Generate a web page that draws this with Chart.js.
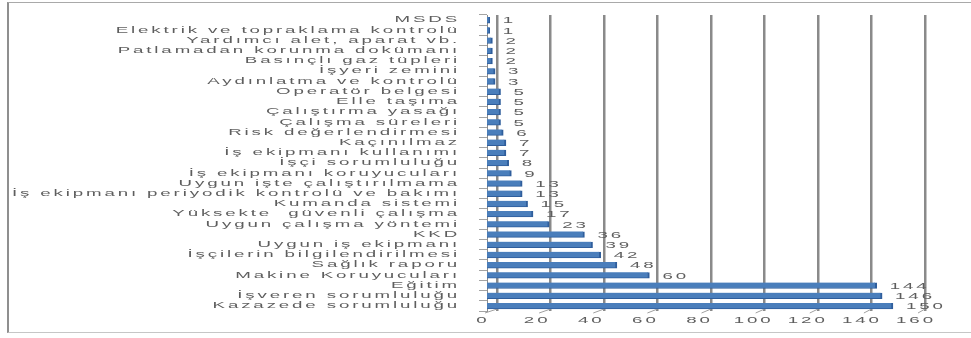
<!DOCTYPE html>
<html>
<head>
<meta charset="utf-8">
<script src="https://cdn.jsdelivr.net/npm/chart.js@4.4.1/dist/chart.umd.min.js"></script>
<style>
  html, body { margin: 0; padding: 0; background: #ffffff; }
  #wrap { position: relative; width: 971px; height: 338px; overflow: hidden; }
  #c { position: absolute; left: 0; top: 0; }
  #frame {
    position: absolute; left: 7px; top: 2px; width: 970px; height: 331px;
    box-sizing: border-box; pointer-events: none;
    border-left: 2px solid #8f8f8f; border-top: 1px solid #a9a9a9; border-bottom: 1px solid #c6c6c6;
  }
</style>
</head>
<body>
<div id="wrap">
  <canvas id="c" width="971" height="338"></canvas>
  <div id="frame"></div>
</div>
<script>
// Kaza nedenleri: kategori adları ve sayıları (yukarıdan aşağıya)
const categories = [
  'MSDS',
  'Elektrik ve topraklama kontrolü',
  'Yardımcı alet, aparat vb.',
  'Patlamadan korunma dokümanı',
  'Basınçlı gaz tüpleri',
  'İşyeri zemini',
  'Aydınlatma ve kontrolü',
  'Operatör belgesi',
  'Elle taşıma',
  'Çalıştırma yasağı',
  'Çalışma süreleri',
  'Risk değerlendirmesi',
  'Kaçınılmaz',
  'İş ekipmanı kullanımı',
  'İşçi sorumluluğu',
  'İş ekipmanı koruyucuları',
  'Uygun işte çalıştırılmama',
  'İş ekipmanı periyodik kontrolü ve bakımı',
  'Kumanda sistemi',
  'Yüksekte  güvenli çalışma',
  'Uygun çalışma yöntemi',
  'KKD',
  'Uygun iş ekipmanı',
  'İşçilerin bilgilendirilmesi',
  'Sağlık raporu',
  'Makine Koruyucuları',
  'Eğitim',
  'İşveren sorumluluğu',
  'Kazazede sorumluluğu'
];
const values = [1, 1, 2, 2, 2, 3, 3, 5, 5, 5, 5, 6, 7, 7, 8, 9, 13, 13, 15, 17, 23, 36, 39, 42, 48, 60, 144, 146, 150];
const tickValues = [0, 20, 40, 60, 80, 100, 120, 140, 160];

const FONT = 'Liberation Sans';
const TEXT = '#5e5e5e';
const TEXT_STRETCH = 2.2;
const TEXT_SPACING = '1.3px';

const canvas = document.getElementById('c');
const ctx = canvas.getContext('2d');

// every label on this chart is set in a widened, loosely spaced face:
// draw text scaled along x around its anchor point
(function widenText(context, sx) {
  const plainFill = context.fillText;
  context.fillText = function (text, x, y, maxWidth) {
    this.save();
    this.letterSpacing = TEXT_SPACING;
    this.translate(x, y);
    this.scale(sx, 1);
    plainFill.call(this, text, 0, 0);
    this.restore();
  };
})(ctx, TEXT_STRETCH);

// value written just past the end of each bar
const valueLabels = {
  id: 'valueLabels',
  afterDatasetsDraw(chart) {
    const c = chart.ctx;
    const meta = chart.getDatasetMeta(0);
    c.save();
    c.font = '8.5px "' + FONT + '"';
    c.fillStyle = TEXT;
    c.textAlign = 'left';
    c.textBaseline = 'middle';
    meta.data.forEach((bar, i) => {
      c.fillText(String(values[i]), bar.x + 13, bar.y + 1);
    });
    c.restore();
  }
};

// slanted floor edges joining each back-wall grid line to its front tick
const floorEdges = {
  id: 'floorEdges',
  beforeDatasetsDraw(chart) {
    const c = chart.ctx;
    const front = chart.scales.x;
    const back = chart.scales.xg;
    const bottom = chart.chartArea.bottom;
    c.save();
    c.strokeStyle = '#a0a0a0';
    c.lineWidth = 1;
    c.beginPath();
    tickValues.forEach(v => {
      c.moveTo(back.getPixelForValue(v), bottom - 2);
      c.lineTo(front.getPixelForValue(v) - 2, bottom + 2);
    });
    c.stroke();
    c.restore();
  }
};

new Chart(ctx, {
  type: 'bar',
  data: {
    labels: categories,
    datasets: [{
      data: values,
      xAxisID: 'x',
      yAxisID: 'y',
      backgroundColor: '#4a7ebb',
      borderColor: '#2f5e9c',
      borderWidth: { top: 0, left: 0, bottom: 1, right: 2 },
      borderSkipped: false,
      barThickness: 6
    }]
  },
  options: {
    indexAxis: 'y',
    responsive: false,
    devicePixelRatio: 1,
    animation: false,
    layout: { padding: { top: 15, right: 51, bottom: 0, left: 0 } },
    plugins: { legend: { display: false }, tooltip: { enabled: false } },
    scales: {
      y: {
        type: 'category',
        afterFit(s) { s.width = 487; s.paddingTop = 0; s.paddingBottom = 0; },
        grid: { display: true, drawOnChartArea: false, drawTicks: true, tickLength: 8, color: '#a4a4a4', offset: true },
        border: { display: true, color: '#8c8c8c', width: 1 },
        ticks: { autoSkip: false, padding: 19, color: TEXT, font: { family: FONT, size: 8.5 } }
      },
      x: {
        type: 'linear',
        position: 'bottom',
        min: 0,
        max: 160,
        afterFit(s) { s.height = 27; s.paddingLeft = 0; s.paddingRight = 0; },
        afterBuildTicks(s) { s.ticks = tickValues.map(v => ({ value: v })); },
        grid: { display: false, drawTicks: false },
        border: { display: false },
        ticks: { autoSkip: false, padding: 5, labelOffset: -4, color: TEXT, font: { family: FONT, size: 8.5 } }
      },
      // back-wall grid, set a little deeper than the bars
      xg: {
        type: 'linear',
        position: 'bottom',
        min: -3.75,
        max: 158.12,
        afterFit(s) { s.height = 0; s.paddingLeft = 0; s.paddingRight = 0; },
        afterBuildTicks(s) { s.ticks = tickValues.map(v => ({ value: v })); },
        grid: { color: '#8a8a8a', lineWidth: 2.5, drawTicks: false },
        border: { display: false },
        ticks: { display: false }
      }
    }
  },
  plugins: [floorEdges, valueLabels]
});
</script>
</body>
</html>
